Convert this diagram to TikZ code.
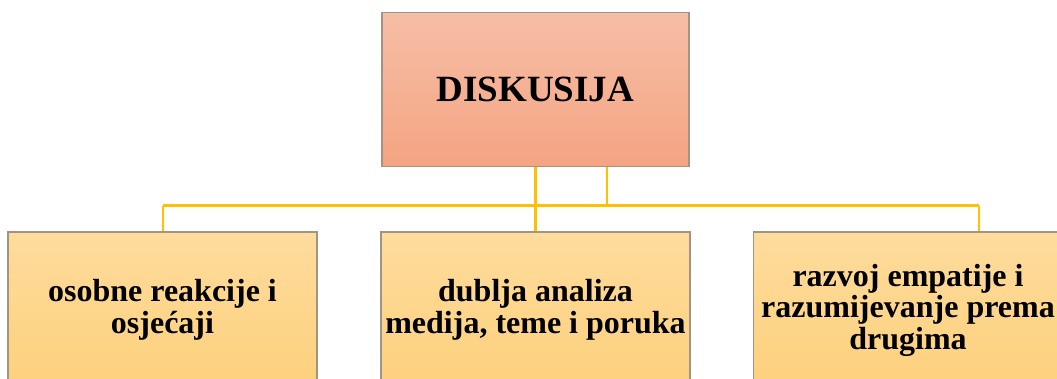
\documentclass[tikz,border=0pt]{standalone}
\usepackage{fontspec}
\setmainfont{Liberation Serif}
\definecolor{salmonTop}{HTML}{F6BEA6}
\definecolor{salmonBot}{HTML}{F4A482}
\definecolor{goldTop}{HTML}{FEDC9D}
\definecolor{goldBot}{HTML}{FDD07C}
\definecolor{boxEdge}{HTML}{A39384}
\definecolor{connGold}{HTML}{FFC000}
\begin{document}
\begin{tikzpicture}[x=1pt,y=-1pt,
  topbox/.style={draw=boxEdge, line width=1.3pt, top color=salmonTop, bottom color=salmonBot,
    minimum width=307pt, minimum height=154pt, inner sep=0pt, align=center,
    font=\bfseries\fontsize{37}{40}\selectfont},
  subbox/.style={draw=boxEdge, line width=1.3pt, top color=goldTop, bottom color=goldBot,
    minimum width=309pt, minimum height=156pt, inner sep=0pt, align=center,
    font=\bfseries\fontsize{32}{31.5}\selectfont},
  conn/.style={draw=connGold, line width=2.4pt}]
\clip (0,0) rectangle (1057,378);
\node[topbox] (top) at (535.5,89.5) {DISKUSIJA};
\node[subbox] (left) at (162.5,310) {osobne reakcije i\\osjećaji};
\node[subbox] (mid) at (535.5,310) {dublja analiza\\medija, teme i poruka};
\node[subbox] (right) at (908,310) {razvoj empatije i\\razumijevanje prema\\drugima};
\coordinate (jL) at (163,205.5);
\coordinate (jR) at (979,205.5);
\coordinate (k) at (607,205.5);
\draw[conn] (jL) -- (jR);
\draw[conn] (jL) -- (jL |- left.north);
\draw[conn] (jR) -- (jR |- right.north);
\draw[conn] (top.south) -- (mid.north);
\draw[conn] (k |- top.south) -- (k);
\end{tikzpicture}
\end{document}
